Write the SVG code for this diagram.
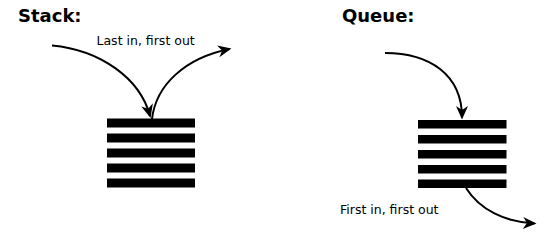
<svg xmlns="http://www.w3.org/2000/svg" width="559" height="248" viewBox="0 0 559 248">
  <style>
    .title { font-family: "DejaVu Sans", sans-serif; font-weight: bold; font-size: 18px; fill: #000; }
    .label { font-family: "DejaVu Sans", sans-serif; font-size: 12.5px; fill: #000; }
    .bar { fill: #000; }
    .arrow { fill: none; stroke: #000; stroke-width: 2; marker-end: url(#head); }
  </style>
  <defs>
    <marker id="head" markerUnits="userSpaceOnUse" markerWidth="18" markerHeight="16" viewBox="-15 -8 18 16" refX="-2" refY="0" orient="auto">
      <path d="M0,0 L-13.5,-6 L-9.5,0 L-13.5,6 Z" fill="#000"/>
    </marker>
  </defs>
  <rect width="559" height="248" fill="#fff"/>

  <g id="stack-title"><text class="title" x="18" y="21.5">Stack:</text></g>
  <g id="queue-title"><text class="title" x="342" y="21.5">Queue:</text></g>

  <g id="stack">
    <rect class="bar" x="107" y="118.5" width="88" height="9"/>
    <rect class="bar" x="107" y="133.5" width="88" height="9"/>
    <rect class="bar" x="107" y="148.5" width="88" height="9"/>
    <rect class="bar" x="107" y="163.5" width="88" height="9"/>
    <rect class="bar" x="107" y="178.5" width="88" height="9"/>
  </g>
  <g id="queue">
    <rect class="bar" x="418" y="120" width="88.5" height="8.5"/>
    <rect class="bar" x="418" y="135" width="88.5" height="8.5"/>
    <rect class="bar" x="418" y="150" width="88.5" height="8.5"/>
    <rect class="bar" x="418" y="165" width="88.5" height="8.5"/>
    <rect class="bar" x="418" y="179.5" width="88.5" height="8.5"/>
  </g>

  <g id="stack-label"><text class="label" x="96.5" y="45">Last in, first out</text></g>
  <g id="queue-label"><text class="label" x="340" y="213.5">First in, first out</text></g>

  <g id="connectors">
    <path class="arrow" d="M52,45.5 C100,50 140,78 150,116"/>
    <path class="arrow" d="M152,119 C156,85 185,58 229.5,49"/>
    <path class="arrow" d="M385,53 C430,53 462,75 462,117.5"/>
    <path class="arrow" d="M466,188 C480,210 505,222 534.5,223.5"/>
  </g>
</svg>
